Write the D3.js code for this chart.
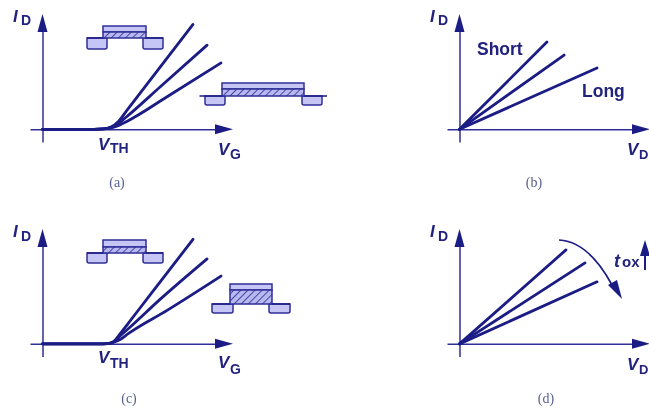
<!DOCTYPE html>
<html><head><meta charset="utf-8">
<script src="https://cdnjs.cloudflare.com/ajax/libs/d3/7.8.5/d3.min.js"></script>
<style>html,body{margin:0;padding:0;background:#fff}svg{display:block}</style>
</head><body><svg id="c" width="649" height="411"></svg>
<script>
// Readings (axis units: 0..100 of each axis)
const captions = ["(a)", "(b)", "(c)", "(d)"];
const curveNames = ["Short", "Medium", "Long"];
const vgA = [[0,27,32,36,40,44,56.4,79],[0,27,32,36,40,44,61.7,86.4],[0,27,32,36,40,44,65.4,93.7]];
const idA = [[0,0,0.3,2,7.1,15.7,42.4,91],[0,0,0.3,1.8,5.3,10.7,36.7,73],[0,0,0.3,1.2,3.4,6.6,28.2,57.6]];
const vgC = [[0,30,34,37,41,45,56.4,79],[0,30,34,37,41,45,61.7,86.4],[0,30,34,37,41,45,65.4,93.7]];
const idC = [[0,0,0.2,1.6,9.3,17.9,42.4,91],[0,0,0.2,1.4,7.3,13.1,38.7,74],[0,0,0.2,1.2,4,8.9,29.2,59]];
const vdB = [[0,45.9],[0,54.9],[0,72.2]];
const idB = [[0,75.7],[0,64.4],[0,53.2]];
const vdD = [[0,55.9],[0,65.9],[0,72.2]];
const idD = [[0,81.8],[0,70.5],[0,54]];

const NAVY = "#1b1b85", AXIS = "#2f2f96", FILL = "#c6c6f6", TXT = "#23237f";
const svg = d3.select("#c");
const defs = svg.append("defs");
defs.append("filter").attr("id","soft").attr("x","-5%").attr("y","-5%").attr("width","110%").attr("height","110%")
  .append("feGaussianBlur").attr("stdDeviation",0.45);
const pat = defs.append("pattern").attr("id","hatch").attr("patternUnits","userSpaceOnUse")
  .attr("width",5).attr("height",5).attr("patternTransform","rotate(45)");
pat.append("rect").attr("width",5).attr("height",5).attr("fill","#b8b8f0");
pat.append("line").attr("x1",0).attr("x2",0).attr("y1",0).attr("y2",5).attr("stroke","#3a3aa0").attr("stroke-width",1.8);

const root = svg.append("g").attr("filter","url(#soft)");
root.append("rect").attr("width",649).attr("height",411).attr("fill","#fff");

const panels = [
  {vg:vgA,id:idA,xr:[30,233],yr:[142,14],curve:d3.curveMonotoneX},
  {vg:vdB,id:idB,xr:[447,650],yr:[142,14],curve:d3.curveLinear},
  {vg:vgC,id:idC,xr:[30,233],yr:[356.5,229],curve:d3.curveMonotoneX},
  {vg:vdD,id:idD,xr:[447,650],yr:[356.5,229],curve:d3.curveLinear}
];

panels.forEach(p=>{
  const x = d3.scaleLinear().domain([-6.56,100]).range(p.xr);
  const y = d3.scaleLinear().domain([-11,100]).range(p.yr);
  const g = root.append("g");
  const ax = g.append("g").attr("transform",`translate(0,${y(0)})`)
    .call(d3.axisBottom(x.copy().range([p.xr[0],p.xr[1]-10])).tickValues([]).tickSizeOuter(0));
  ax.select(".domain").attr("stroke",AXIS).attr("stroke-width",1.5);
  const ay = g.append("g").attr("transform",`translate(${x(0)},0)`)
    .call(d3.axisLeft(y.copy().range([p.yr[0],p.yr[1]+10])).tickValues([]).tickSizeOuter(0));
  ay.select(".domain").attr("stroke",AXIS).attr("stroke-width",1.5);
  const tipX=p.xr[1], tipY=p.yr[1];
  g.append("path").attr("fill",NAVY)
    .attr("d",`M${tipX},${y(0)}L${tipX-18},${y(0)-5}L${tipX-18},${y(0)+5}Z`);
  g.append("path").attr("fill",NAVY)
    .attr("d",`M${x(0)},${tipY}L${x(0)-5},${tipY+18}L${x(0)+5},${tipY+18}Z`);
  const line = d3.line().x(d=>x(d[0])).y(d=>y(d[1])).curve(p.curve);
  curveNames.forEach((n,i)=>{
    g.append("path").datum(d3.zip(p.vg[i],p.id[i]))
      .attr("fill","none").attr("stroke",NAVY).attr("stroke-width",2.8)
      .attr("stroke-linecap","round").attr("d",line);
  });
});

// Text helpers
function sub(x,y,main,s,dx,dy,size,sSize){
  const t = root.append("g").attr("fill",TXT).attr("font-family","'Liberation Sans',Arial,sans-serif").attr("font-weight","bold");
  t.append("text").attr("x",x).attr("y",y).attr("font-style","italic").attr("font-size",size||17).text(main);
  t.append("text").attr("x",x+dx).attr("y",y+dy).attr("font-size",sSize||14).text(s);
}
sub(13,22,"I","D",8,3);
sub(98,150,"V","TH",12,3);
sub(218,155,"V","G",12,4);
sub(13,237,"I","D",8,4);
sub(98,363,"V","TH",12,5);
sub(218,368,"V","G",12,6);
sub(430,22,"I","D",8,3);
sub(627,155,"V","D",12,4,17,13);
sub(430,237,"I","D",8,4);
sub(627,370,"V","D",12,4,17,13);
sub(614,267,"t","ox",8,0,18,15);

[["Short",477,55],["Long",582,97]].forEach(d=>{
  root.append("text").attr("x",d[1]).attr("y",d[2]).attr("fill",TXT)
    .attr("font-family","'Liberation Sans',Arial,sans-serif").attr("font-weight","bold").attr("font-size",17.5).text(d[0]);
});

[[117,187],[534,187],[129,403],[546,403]].forEach((d,i)=>{
  root.append("text").attr("x",d[0]).attr("y",d[1]).attr("text-anchor","middle").attr("fill","#59618f")
    .attr("font-family","'Liberation Serif',serif").attr("font-size",14).text(captions[i]);
});

// Transistor sketches
function mos(o){
  const g = root.append("g").attr("stroke",AXIS).attr("stroke-width",1.5);
  const well=(a,b)=>g.append("path").attr("fill",FILL)
    .attr("d",`M${a},${o.base}H${b}V${o.wellB-2}Q${b},${o.wellB} ${b-2},${o.wellB}H${a+2}Q${a},${o.wellB} ${a},${o.wellB-2}Z`);
  well(o.s0,o.s1); well(o.d0,o.d1);
  g.append("rect").attr("x",o.g0).attr("y",o.top).attr("width",o.g1-o.g0).attr("height",o.mid-o.top).attr("fill",FILL);
  g.append("rect").attr("x",o.g0).attr("y",o.mid).attr("width",o.g1-o.g0).attr("height",o.base-o.mid).attr("fill","url(#hatch)");
  g.append("path").attr("fill","none").attr("stroke",NAVY)
    .attr("d",`M${o.l0},${o.base}H${o.g0}M${o.g1},${o.base}H${o.l1}`);
}
mos({g0:103,g1:146,top:26,mid:32,base:38,s0:87,s1:107,d0:143,d1:163,wellB:49,l0:87,l1:163});
mos({g0:222,g1:304,top:83,mid:89,base:96,s0:205,s1:225,d0:302,d1:322,wellB:105,l0:199.5,l1:327});
mos({g0:103,g1:146,top:240,mid:247,base:253,s0:87,s1:107,d0:143,d1:163,wellB:263,l0:87,l1:163});
mos({g0:230,g1:272,top:284,mid:290,base:304,s0:212,s1:233,d0:269,d1:290,wellB:313,l0:212,l1:290});

// t_ox sweep arrow and its up-arrow
root.append("path").attr("fill","none").attr("stroke",NAVY).attr("stroke-width",1.7)
  .attr("d","M559,240Q588.5,241.5 612,285");
root.append("path").attr("fill",NAVY).attr("d","M622,299L608,285L617,280Z");
root.append("path").attr("fill","none").attr("stroke",NAVY).attr("stroke-width",2).attr("d","M645,252V270");
root.append("path").attr("fill",NAVY).attr("d","M645,240L640,256L650,256Z");
</script></body></html>
